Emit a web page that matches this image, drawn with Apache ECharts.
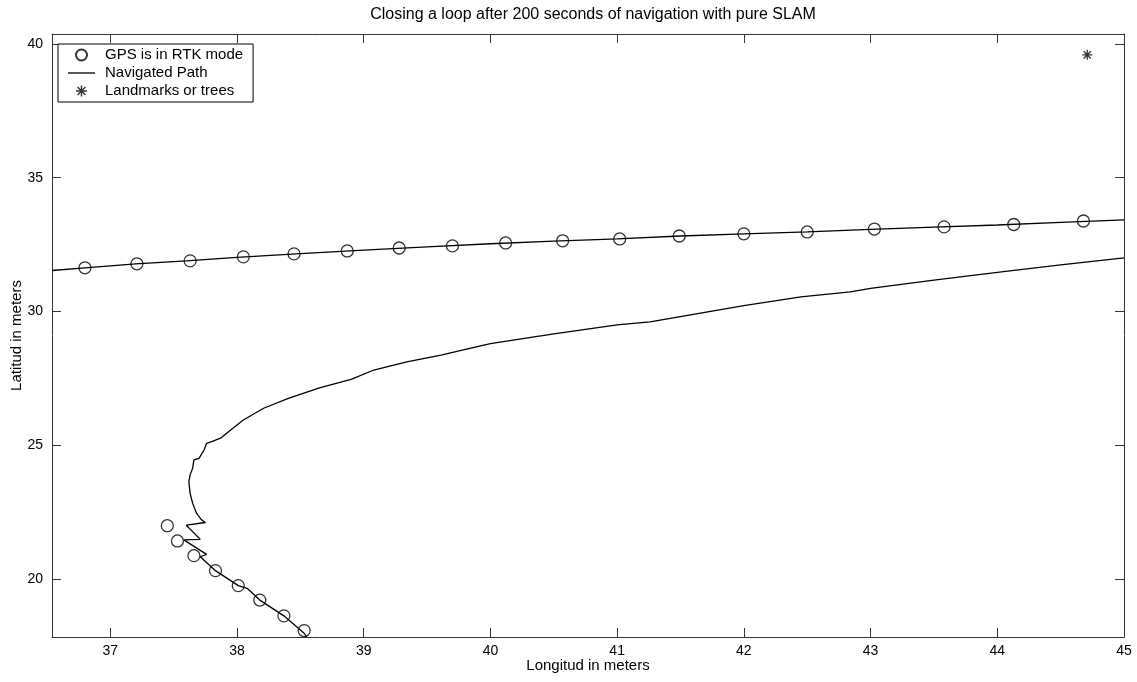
<!DOCTYPE html>
<html>
<head>
<meta charset="utf-8">
<title>Closing a loop</title>
<script src="https://cdn.jsdelivr.net/npm/echarts@6/dist/echarts.min.js"></script>
<style>
  html, body { margin: 0; padding: 0; background: #fff; }
  #chart { width: 1137px; height: 682px; }
</style>
</head>
<body>
<div id="chart"></div>
<script>
// GPS fixes in RTK mode (upper pass, then the lower return)
const gpsLon = [36.80, 37.21, 37.63, 38.05, 38.45, 38.87, 39.28, 39.70, 40.12, 40.57, 41.02, 41.49, 42.00, 42.50, 43.03, 43.58, 44.13, 44.68,
                38.53, 38.37, 38.18, 38.01, 37.83, 37.66, 37.53, 37.45]
const gpsLat = [31.63, 31.78, 31.89, 32.04, 32.15, 32.26, 32.37, 32.45, 32.56, 32.64, 32.71, 32.82, 32.90, 32.97, 33.08, 33.16, 33.25, 33.38,
                18.07, 18.62, 19.21, 19.75, 20.31, 20.87, 21.42, 21.99]

// navigated path, upper branch
const pathUpLon = [36.54, 36.80, 37.20, 37.60, 38.00, 38.50, 39.00, 39.50, 40.00, 40.50, 41.00, 41.50, 42.00, 42.50, 43.00, 43.50, 44.00, 44.50, 45.00]
const pathUpLat = [31.53, 31.63, 31.78, 31.89, 32.02, 32.16, 32.29, 32.41, 32.53, 32.63, 32.71, 32.82, 32.90, 32.97, 33.07, 33.15, 33.23, 33.33, 33.42]

// navigated path, lower branch (bottom edge -> turn -> right edge)
const pathLowLon = [38.55, 38.53, 38.37, 38.18, 38.08, 38.01, 37.83, 37.71, 37.76, 37.58, 37.71, 37.60, 37.75, 37.72, 37.68, 37.65, 37.63, 37.62,
                    37.63, 37.65, 37.66, 37.70, 37.74, 37.76, 37.80, 37.87, 37.95, 38.05, 38.21, 38.40, 38.65, 38.90, 39.08, 39.34, 39.61,
                    39.82, 40.00, 40.50, 41.00, 41.26, 42.00, 42.45, 42.84, 43.00, 43.50, 44.00, 44.50, 45.00]
const pathLowLat = [17.83, 17.97, 18.62, 19.21, 19.65, 19.75, 20.31, 20.83, 20.92, 21.46, 21.48, 22.01, 22.11, 22.21, 22.46, 22.83, 23.20, 23.64,
                    23.89, 24.14, 24.45, 24.51, 24.82, 25.07, 25.13, 25.26, 25.57, 25.94, 26.38, 26.74, 27.14, 27.46, 27.81, 28.11, 28.37,
                    28.60, 28.80, 29.16, 29.50, 29.61, 30.22, 30.54, 30.73, 30.86, 31.17, 31.46, 31.74, 32.00]

// landmarks
const treeLon = [44.71]
const treeLat = [39.59]

const xTicks = [37, 38, 39, 40, 41, 42, 43, 44, 45]
const yTicks = [20, 25, 30, 35, 40]

const zip = (a, b) => a.map((v, i) => [v, b[i]])

// asterisk marker built from four thin bars
const star = 'path://M8.7 0H11.3V20H8.7Z M0 8.7H20V11.3H0Z M1.9 3.7L3.7 1.9L18.1 16.3L16.3 18.1Z M16.3 1.9L18.1 3.7L3.7 18.1L1.9 16.3Z'
const lineIcon = 'path://M0 0H27V1.3H0Z'

const font = 'Liberation Sans'
const axisColor = '#333'

function boxAxis(pos, min, max, ticks, showLabel, name) {
  return {
    type: 'value',
    position: pos,
    min: min,
    max: max,
    name: name,
    nameLocation: 'middle',
    nameMoveOverlap: false,
    nameGap: (pos === 'left') ? 28 : 21,
    nameTextStyle: {color: '#000', fontFamily: font, fontSize: 15},
    axisLine: {show: true, onZero: false, lineStyle: {color: axisColor, width: 1}},
    axisTick: {show: true, inside: true, length: 9, customValues: ticks, lineStyle: {color: axisColor}},
    axisLabel: {show: showLabel, customValues: ticks, margin: (pos === 'left') ? 9 : 7, color: '#000', fontFamily: font, fontSize: 14},
    splitLine: {show: false}
  }
}

const chart = echarts.init(document.getElementById('chart'))

const option = {
  animation: false,
  backgroundColor: '#fff',
  title: {
    text: 'Closing a loop after 200 seconds of navigation with pure SLAM',
    left: 588,
    top: 2,
    textAlign: 'center',
    textStyle: {fontFamily: font, fontSize: 16, fontWeight: 'normal', color: '#000'}
  },
  grid: {left: 52, right: 13, top: 34, bottom: 45, outerBoundsMode: 'none', containLabel: false},
  xAxis: [
    boxAxis('bottom', 36.54, 45, xTicks, true, 'Longitud in meters'),
    boxAxis('top', 36.54, 45, xTicks, false, '')
  ],
  yAxis: [
    boxAxis('left', 17.83, 40.37, yTicks, true, 'Latitud in meters'),
    boxAxis('right', 17.83, 40.37, yTicks, false, '')
  ],
  legend: {
    orient: 'vertical',
    left: 58,
    top: 44,
    padding: [3, 10, 3, 10],
    itemWidth: 27,
    itemHeight: 11,
    itemGap: 2,
    borderColor: '#000',
    borderWidth: 1,
    backgroundColor: '#fff',
    textStyle: {fontFamily: font, fontSize: 15, lineHeight: 16, color: '#000', padding: [0, 0, 0, 5]},
    data: [
      {name: 'GPS is in RTK mode'},
      {name: 'Navigated Path', icon: lineIcon, itemStyle: {color: '#000'}},
      {name: 'Landmarks or trees'}
    ]
  },
  series: [
    {
      name: 'Navigated Path',
      type: 'line',
      data: zip(pathUpLon, pathUpLat),
      showSymbol: false,
      symbol: 'none',
      clip: true,
      lineStyle: {color: '#000', width: 1.3},
      itemStyle: {color: '#000'}
    },
    {
      name: 'Navigated Path',
      type: 'line',
      data: zip(pathLowLon, pathLowLat),
      showSymbol: false,
      symbol: 'none',
      clip: true,
      lineStyle: {color: '#000', width: 1.3},
      itemStyle: {color: '#000'}
    },
    {
      name: 'GPS is in RTK mode',
      type: 'scatter',
      data: zip(gpsLon, gpsLat),
      symbol: 'circle',
      symbolSize: 12,
      z: 3,
      itemStyle: {color: 'rgba(0,0,0,0)', borderColor: '#000', borderWidth: 1.3}
    },
    {
      name: 'Landmarks or trees',
      type: 'scatter',
      data: zip(treeLon, treeLat),
      symbol: star,
      symbolSize: 10,
      itemStyle: {color: '#000'}
    }
  ]
}

chart.setOption(option)
</script>
</body>
</html>
